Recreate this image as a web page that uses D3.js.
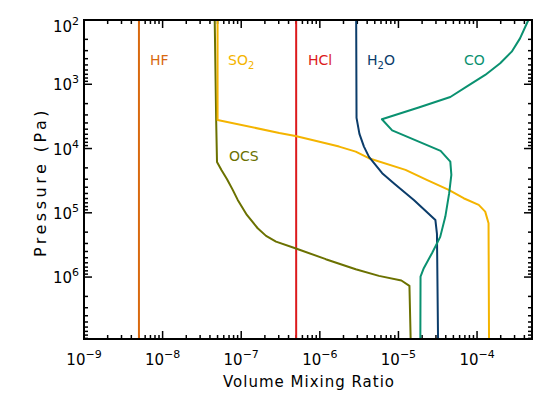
<!DOCTYPE html>
<html>
<head>
<meta charset="utf-8">
<script src="https://cdn.jsdelivr.net/npm/d3@7"></script>
<style>
  body { margin: 0; background: #fff; }
  text { font-family: "DejaVu Sans", sans-serif; }
</style>
</head>
<body>
<div class="chart"></div>
<script>
// profiles: [volume mixing ratio, pressure (Pa)]
var hf = [[5e-9, 100], [5e-9, 9.2e6]];
var hcl = [[5e-7, 100], [5e-7, 9.2e6]];
var so2 = [[5e-8, 100], [5e-8, 3590], [3.05e-7, 5720], [4.9e-7, 6370], [8e-7, 7350],
  [1.76e-6, 9330], [2.86e-6, 11170], [4.2e-6, 14150], [1.23e-5, 21500], [2.29e-5, 30800],
  [4.36e-5, 44000], [6.75e-5, 59300], [1.05e-4, 75400], [1.27e-4, 95800], [1.4e-4, 145000],
  [1.42e-4, 9.2e6]];
var ocs = [[4.6e-8, 100], [4.8e-8, 3590], [4.92e-8, 16150], [5.6e-8, 21500], [6.6e-8, 30000],
  [7.8e-8, 44000], [9.03e-8, 63000], [1.18e-7, 108000], [1.62e-7, 174000], [2.07e-7, 228600],
  [2.77e-7, 280600], [4.87e-7, 355600], [1.19e-6, 527000], [2.86e-6, 754000], [5.65e-6, 958000],
  [1.09e-5, 1.13e6], [1.38e-5, 1.37e6], [1.43e-5, 9.2e6]];
var h2o = [[2.9e-6, 100], [2.93e-6, 3340], [3.19e-6, 5930], [3.64e-6, 9330], [4.22e-6, 13500],
  [6.21e-6, 24200], [8.95e-6, 35500], [1.57e-5, 63000], [2.95e-5, 129000], [3.09e-5, 213000],
  [3.19e-5, 9.2e6]];
var co = [[4.5e-4, 100], [3.52e-4, 193], [2.76e-4, 311], [1.97e-4, 471], [1.27e-4, 716],
  [7.8e-5, 1044], [4.57e-5, 1577], [1.81e-5, 2295], [6.16e-6, 3500],
  [8.32e-6, 5230], [3.44e-5, 10900], [4.57e-5, 16000], [4.71e-5, 25700], [4.42e-5, 49550],
  [3.95e-5, 114500], [3.4e-5, 237000], [2.67e-5, 425000], [2.1e-5, 728000], [1.91e-5, 982000],
  [1.9e-5, 9.2e6]];

var xTicks = [1e-9, 1e-8, 1e-7, 1e-6, 1e-5, 1e-4];
var yTicks = [1e2, 1e3, 1e4, 1e5, 1e6];

var svgWidth = 560, svgHeight = 400;
var margin = {top: 20, right: 28, bottom: 61, left: 84};

var svg = d3.select(".chart").append("svg")
  .attr("width", svgWidth)
  .attr("height", svgHeight);

var x = d3.scaleLog().domain([1e-9, 5e-4]).range([margin.left, svgWidth - margin.right]);
var y = d3.scaleLog().domain([1e2, 9.2e6]).range([margin.top, svgHeight - margin.bottom]);

var x0 = x.range()[0], x1 = x.range()[1], y0 = y.range()[0], y1 = y.range()[1];

// minor ticks 2..9 in each decade
function minors(ticks, dom) {
  var out = [];
  ticks.forEach(function(d) {
    for (var k = 2; k <= 9; k++) {
      var v = k * d;
      if (v > dom[0] && v < dom[1]) out.push(v);
    }
  });
  return out;
}
var xMinor = minors(xTicks, x.domain());
var yMinor = minors(yTicks, y.domain());

var ticks = svg.append("g").attr("stroke", "#000").attr("stroke-width", 1.5);
function xt(vals, len) {
  vals.forEach(function(v) {
    ticks.append("line").attr("x1", x(v)).attr("x2", x(v)).attr("y1", y1).attr("y2", y1 - len);
    ticks.append("line").attr("x1", x(v)).attr("x2", x(v)).attr("y1", y0).attr("y2", y0 + len);
  });
}
function yt(vals, len) {
  vals.forEach(function(v) {
    ticks.append("line").attr("y1", y(v)).attr("y2", y(v)).attr("x1", x0).attr("x2", x0 + len);
    ticks.append("line").attr("y1", y(v)).attr("y2", y(v)).attr("x1", x1).attr("x2", x1 - len);
  });
}
xt(xTicks.slice(1), 8);
xt(xMinor, 4);
yt(yTicks.slice(1), 8);
yt(yMinor, 4);

// profiles
var line = d3.line()
  .x(function(d) { return x(d[0]); })
  .y(function(d) { return y(d[1]); });
var series = [
  {data: hf, color: "#d9690f"},
  {data: hcl, color: "#dc1a1c"},
  {data: ocs, color: "#6b7100"},
  {data: so2, color: "#f4b400"},
  {data: h2o, color: "#0b3c6a"},
  {data: co, color: "#0a9170"}
];
svg.append("g").selectAll("path")
  .data(series)
  .enter().append("path")
  .attr("d", function(s) { return line(s.data); })
  .attr("fill", "none")
  .attr("stroke", function(s) { return s.color; })
  .attr("stroke-width", 2)
  .attr("stroke-linejoin", "round");

// frame
svg.append("rect")
  .attr("x", x0).attr("y", y0)
  .attr("width", x1 - x0).attr("height", y1 - y0)
  .attr("fill", "none").attr("stroke", "#000").attr("stroke-width", 2);

// tick labels
function exponent(v) { return String(Math.round(Math.log10(v))).replace("-", "\u2212"); }

var xl = svg.append("g").attr("font-size", 15).attr("text-anchor", "middle");
xTicks.forEach(function(v) {
  var t = xl.append("text").attr("x", x(v)).attr("y", y1 + 26);
  t.append("tspan").text("10");
  t.append("tspan").attr("dy", -7).attr("font-size", 11).text(exponent(v));
});

var yl = svg.append("g").attr("font-size", 15).attr("text-anchor", "end");
yTicks.forEach(function(v) {
  var t = yl.append("text").attr("x", x0 - 5).attr("y", Math.max(y(v), y0 + 6) + 6);
  t.append("tspan").text("10");
  t.append("tspan").attr("dy", -7).attr("font-size", 11).text(exponent(v));
});

// axis titles
svg.append("text")
  .attr("x", (x0 + x1) / 2 + 1).attr("y", 387)
  .attr("text-anchor", "middle").attr("font-size", 15)
  .attr("letter-spacing", 1)
  .text("Volume Mixing Ratio");

svg.append("text")
  .attr("transform", "translate(46," + 182 + ") rotate(-90)")
  .attr("text-anchor", "middle").attr("font-size", 16)
  .attr("letter-spacing", 3.5)
  .text("Pressure (Pa)");

// species labels
var labels = [
  {name: "HF", sub: null, color: "#d9690f", px: 150, py: 65},
  {name: "SO", sub: "2", color: "#f4b400", px: 228, py: 65},
  {name: "HCl", sub: null, color: "#dc1a1c", px: 308, py: 65},
  {name: "H", sub: "2", rest: "O", color: "#0b3c6a", px: 367, py: 65},
  {name: "CO", sub: null, color: "#0a9170", px: 464, py: 65},
  {name: "OCS", sub: null, color: "#6b7100", px: 229, py: 161}
];
labels.forEach(function(l) {
  var t = svg.append("text").attr("x", l.px).attr("y", l.py)
    .attr("font-size", 14).attr("fill", l.color);
  t.append("tspan").text(l.name);
  if (l.sub) t.append("tspan").attr("dy", 4).attr("font-size", 10).text(l.sub);
  if (l.rest) t.append("tspan").attr("dy", -4).text(l.rest);
});
</script>
</body>
</html>
